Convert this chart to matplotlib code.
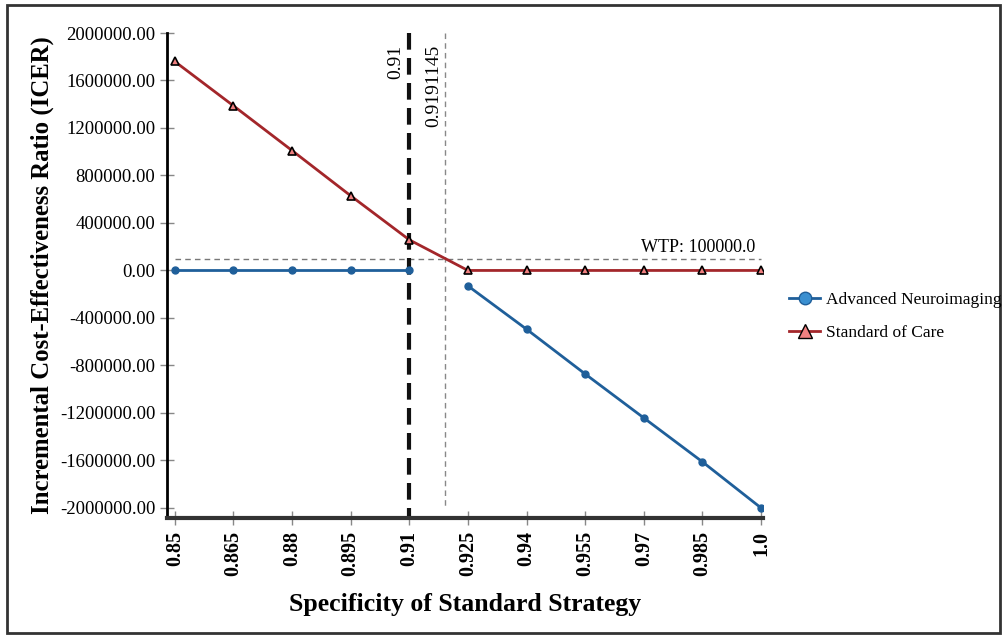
import matplotlib
matplotlib.use("Agg")
import matplotlib.pyplot as plt
from matplotlib.patches import Rectangle

# data
specificity = [0.85, 0.865, 0.88, 0.895, 0.91, 0.925, 0.94, 0.955, 0.97, 0.985, 1.0]
tick_labels = ["0.85", "0.865", "0.88", "0.895", "0.91", "0.925", "0.94", "0.955", "0.97", "0.985", "1.0"]
icer_neuro = [0, 0, 0, 0, 0, -130000, -495000, -872000, -1242000, -1612000, -2000000]
icer_soc = [1760000, 1387000, 1010000, 629000, 258000, 0, 0, 0, 0, 0, 0]
y_ticks = [2000000, 1600000, 1200000, 800000, 400000, 0, -400000, -800000, -1200000, -1600000, -2000000]
wtp = 100000.0
threshold = 0.9191145
current = 0.91

plt.rcParams["font.family"] = ["Liberation Serif", "DejaVu Serif"]

fig = plt.figure(figsize=(10.08, 6.4), dpi=100)
ax = fig.add_axes([167 / 1008, 1 - 518 / 640, (763 - 167) / 1008, (518 - 33) / 640])

blue = "#1f5f9a"
red = "#a3262a"

# the neuroimaging line breaks between 0.91 and 0.925
split = 5
ax.plot(specificity[:split], icer_neuro[:split], color=blue, lw=2, marker="o", ms=5, zorder=4)
ax.plot(specificity[split:], icer_neuro[split:], color=blue, lw=2, marker="o", ms=5, zorder=4)
ax.plot(specificity, icer_soc, color=red, lw=2, marker="^", ms=6,
        markerfacecolor="#f08080", markeredgecolor="black", markeredgewidth=1.2, zorder=5)

# reference lines
ax.plot([specificity[0], specificity[-1]], [wtp, wtp], color="#777777", lw=1, ls=(0, (4, 3)), zorder=2)
ax.text(specificity[-1] - 0.0015, wtp + 25000, "WTP: %.1f" % wtp, ha="right", va="bottom", fontsize=13)
ax.plot([threshold, threshold], [y_ticks[0], y_ticks[-1]], color="#888888", lw=1, ls=(0, (4, 3)), zorder=2)
ax.text(threshold - 0.0008, y_ticks[0] - 100000, str(threshold), rotation=90, ha="right", va="top", fontsize=14)
ax.plot([current, current], [y_ticks[0], -2070000], color="#111111", lw=3, ls=(0, (4, 2)), zorder=3)
ax.text(current - 0.0012, y_ticks[0] - 100000, str(current), rotation=90, ha="right", va="top", fontsize=14)

ax.set_xlim(0.848, 1.0005)
ax.set_ylim(-2085000, 2000000)
ax.set_xticks(specificity)
ax.set_xticklabels(tick_labels, rotation=90, fontsize=14.5, fontweight="bold")
ax.set_yticks(y_ticks)
ax.set_yticklabels(["%.2f" % v for v in y_ticks], fontsize=13.5)
ax.tick_params(axis="both", direction="inout", length=10, color="#888888", width=1)
ax.tick_params(axis="x", pad=4)

for s in ["top", "right"]:
    ax.spines[s].set_visible(False)
ax.spines["left"].set_linewidth(2)
ax.spines["bottom"].set_linewidth(3)
ax.spines["bottom"].set_color("#333333")

ax.set_xlabel("Specificity of Standard Strategy", fontsize=18.5, fontweight="bold")
ax.set_ylabel("Incremental Cost-Effectiveness Ratio (ICER)", fontsize=17.8, fontweight="bold")
ax.xaxis.set_label_coords(0.5, -0.155)
ax.yaxis.set_label_coords(-0.19, 0.5)

# legend on the right
h1, = ax.plot([], [], color=blue, lw=2, marker="o", ms=9, markerfacecolor="#3a8fd0", markeredgecolor=blue)
h2, = ax.plot([], [], color=red, lw=2, marker="^", ms=10, markerfacecolor="#f08080", markeredgecolor="black")
fig.legend([h1, h2], ["Advanced Neuroimaging", "Standard of Care"], loc="upper left",
           bbox_to_anchor=(777 / 1008, 1 - 280 / 640), frameon=False, fontsize=12.5,
           handlelength=1.8, handletextpad=0.3, labelspacing=0.95, borderpad=0.2)

# outer border
fig.patches.append(Rectangle((7 / 1008, 1 - 633 / 640), 993 / 1008, 628 / 640, transform=fig.transFigure,
                             fill=False, edgecolor="#333333", lw=2))

fig.savefig("out.png", dpi=100)
